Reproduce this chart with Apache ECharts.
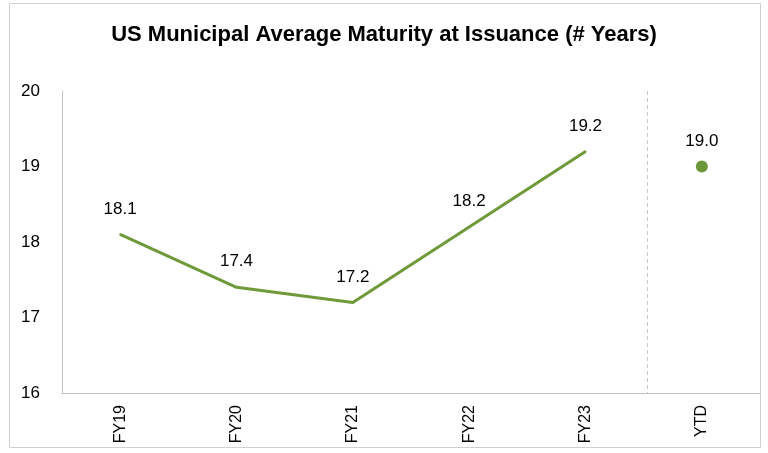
<!DOCTYPE html>
<html>
<head>
<meta charset="utf-8">
<script src="https://cdn.jsdelivr.net/npm/echarts@6/dist/echarts.min.js"></script>
<style>
  html, body { margin: 0; padding: 0; background: #fff; }
  #chart { width: 768px; height: 453px; }
</style>
</head>
<body>
<div id="chart"></div>
<script>
const categories = ["FY19", "FY20", "FY21", "FY22", "FY23", "YTD"];
const yearValues = [18.1, 17.4, 17.2, 18.2, 19.2, null];
const ytdValues = [null, null, null, null, null, 19.0];
const yTicks = [16, 17, 18, 19, 20];

const green = "#6e9a3a";
const font = "Liberation Sans, Arial, sans-serif";

let myChart = echarts.init(document.getElementById("chart"));
let option = {
  animation: false,
  title: {
    text: "US Municipal Average Maturity at Issuance (# Years)",
    left: "center",
    top: 19,
    textStyle: { fontFamily: font, fontSize: 22, fontWeight: "bold", color: "#000" }
  },
  grid: { left: 62, right: 8, top: 91, bottom: 60 },
  xAxis: {
    type: "category",
    data: categories,
    boundaryGap: true,
    axisLine: { lineStyle: { color: "#bfbfbf", width: 1 } },
    axisTick: { show: false },
    axisLabel: {
      rotate: 90,
      margin: 12,
      color: "#000",
      fontFamily: font,
      fontSize: 16
    }
  },
  yAxis: {
    type: "value",
    min: yTicks[0],
    max: yTicks[yTicks.length - 1],
    interval: 1,
    axisLine: { show: true, lineStyle: { color: "#bfbfbf", width: 1 } },
    axisTick: { show: false },
    splitLine: { show: false },
    axisLabel: {
      margin: 22,
      color: "#000",
      fontFamily: font,
      fontSize: 17
    }
  },
  series: [
    {
      type: "line",
      data: yearValues,
      symbol: "circle",
      symbolSize: 2,
      showSymbol: true,
      itemStyle: { color: green },
      lineStyle: { color: green, width: 3 },
      label: {
        show: true,
        position: "top",
        distance: 16,
        formatter: (p) => p.value.toFixed(1),
        color: "#000",
        fontFamily: font,
        fontSize: 17
      }
    },
    {
      type: "scatter",
      data: ytdValues,
      symbol: "circle",
      symbolSize: 12,
      itemStyle: { color: "#6b9638", opacity: 1 },
      label: {
        show: true,
        position: "top",
        distance: 11,
        formatter: (p) => p.value.toFixed(1),
        color: "#000",
        fontFamily: font,
        fontSize: 17
      }
    }
  ]
};
myChart.setOption(option);

// dashed separator between FY23 and YTD, plus the outer frame
const xa = myChart.convertToPixel({ xAxisIndex: 0 }, "FY23");
const xb = myChart.convertToPixel({ xAxisIndex: 0 }, "YTD");
const yTop = myChart.convertToPixel({ yAxisIndex: 0 }, yTicks[yTicks.length - 1]);
const yBot = myChart.convertToPixel({ yAxisIndex: 0 }, yTicks[0]);
const sepX = Math.round((xa + xb) / 2) + 3.5;
myChart.setOption({
  graphic: [
    {
      type: "rect",
      shape: { x: 9.5, y: 3.5, width: 751, height: 444 },
      style: { fill: null, stroke: "#d0d0d0", lineWidth: 1 },
      silent: true
    },
    {
      type: "line",
      shape: { x1: sepX, y1: yTop, x2: sepX, y2: yBot },
      style: { stroke: "#c8c8c8", lineWidth: 1, lineDash: [4, 3] },
      silent: true
    }
  ]
});
</script>
</body>
</html>
